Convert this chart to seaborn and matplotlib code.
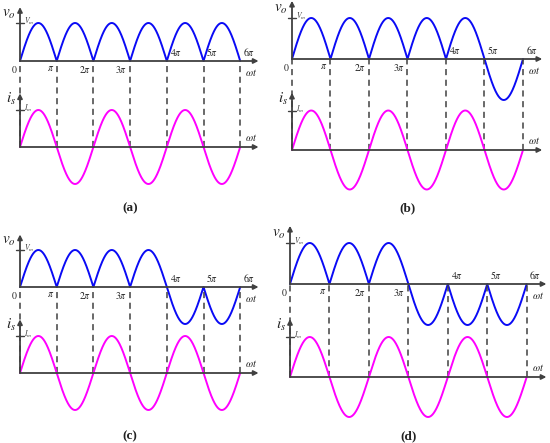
import numpy as np
import pandas as pd
import matplotlib
matplotlib.use("Agg")
import matplotlib.pyplot as plt
import seaborn as sns

# --- dane ---
half_cycles = [0, 1, 2, 3, 4, 5, 6]          # wielokrotnosci pi
tick_labels = [r'$0$', r'$\pi$', r'$2\pi$', r'$3\pi$', r'$4\pi$', r'$5\pi$', r'$6\pi$']
Vm = 1.0
Im = 1.0
# znak napiecia wyjsciowego w kolejnych polokresach
signs_a = [1, 1, 1, 1, 1, 1]
signs_b = [1, 1, 1, 1, 1, -1]
signs_c = [1, 1, 1, 1, -1, -1]
signs_d = [1, 1, 1, -1, -1, -1]
panel_names = ['(a)', '(b)', '(c)', '(d)']

# polozenie paneli w pikselach: x0, pi_px, y_v, amp_v, y_i, amp_i, y_label
layout = {
    '(a)': (20, 36.7, 61, 38, 147, 37, 208),
    '(b)': (292, 38.5, 59, 41, 150, 39.5, 208),
    '(c)': (20, 36.7, 287, 37, 373, 37, 436),
    '(d)': (290, 39.45, 284, 41, 377, 40, 436),
}
signs = dict(zip(panel_names, [signs_a, signs_b, signs_c, signs_d]))

W, H = 550, 443
BLUE = '#0a0af5'
PINK = '#ff00ff'
AXC = '#404040'

sns.set_theme(style="white")
plt.rcParams['font.family'] = ['Liberation Serif', 'DejaVu Serif']
plt.rcParams['mathtext.fontset'] = 'stix'

fig = plt.figure(figsize=(W / 100, H / 100), dpi=100)
XLIM = (-0.6, 7.0)


def px_axes(x0, y0, p, a, ylim):
    left = (x0 + XLIM[0] * p) / W
    width = (XLIM[1] - XLIM[0]) * p / W
    top_px = y0 - ylim[1] * a
    height = (ylim[1] - ylim[0]) * a / H
    bottom = 1 - top_px / H - height
    ax = fig.add_axes([left, bottom, width, height])
    ax.set_xlim(XLIM)
    ax.set_ylim(ylim)
    ax.axis('off')
    return ax


def arrows(ax, ytop):
    ap = dict(arrowstyle='-|>', color=AXC, lw=1.3, mutation_scale=7,
              shrinkA=0, shrinkB=0)
    ax.annotate('', xy=(6.5, 0), xytext=(0, 0), arrowprops=ap, annotation_clip=False)
    ax.annotate('', xy=(0, ytop), xytext=(0, 0), arrowprops=ap, annotation_clip=False)


for name in panel_names:
    x0, p, yv, av, yi, ai, ylab = layout[name]
    wt = np.linspace(0, 6, 1201)
    k = np.minimum((wt // 1).astype(int), 5)
    v = Vm * np.abs(np.sin(np.pi * wt)) * np.array(signs[name])[k]
    i = Im * np.sin(np.pi * wt)

    # napiecie wyjsciowe
    axv = px_axes(x0, yv, p, av, (-1.2, 1.6))
    arrows(axv, 1.42)
    sns.lineplot(x=wt, y=v, ax=axv, color=BLUE, lw=1.4, sort=False,
                 estimator=None, legend=False)
    axv.plot([-0.1, 0.1], [Vm, Vm], color=AXC, lw=1)
    axv.annotate(r'$V_m$', (0, Vm), xytext=(3, 1), textcoords='offset points',
                 ha='left', va='center', fontsize=5.5, color=AXC)
    axv.annotate(r'$v_o$', (0, 1.22), xytext=(-3, 0), textcoords='offset points',
                 ha='right', va='center', fontsize=11, color='#222222')
    for kk, lab in zip(half_cycles, tick_labels):
        if kk <= 3:
            axv.annotate(lab, (kk, 0), xytext=(-2, -2), textcoords='offset points',
                         ha='right', va='top', fontsize=7, color='#222222')
        else:
            axv.annotate(lab, (kk, 0), xytext=(2, 2), textcoords='offset points',
                         ha='left', va='bottom', fontsize=7, color='#222222')
    axv.annotate(r'$\omega t$', (6.3, 0), xytext=(0, -4), textcoords='offset points',
                 ha='center', va='top', fontsize=7.5, color='#222222')

    # prad zrodla
    itop = (yi - yv) / ai
    axi = px_axes(x0, yi, p, ai, (-1.2, itop))
    axi.vlines(half_cycles, 0, itop, colors=AXC, linestyles=(0, (4, 3)), lw=1.1)
    arrows(axi, 1.45)
    sns.lineplot(x=wt, y=i, ax=axi, color=PINK, lw=1.4, sort=False,
                 estimator=None, legend=False)
    axi.plot([-0.1, 0.1], [Im, Im], color=AXC, lw=1)
    axi.annotate(r'$I_m$', (0, Im), xytext=(3, 1), textcoords='offset points',
                 ha='left', va='center', fontsize=5.5, color=AXC)
    axi.annotate(r'$i_s$', (0, 1.3), xytext=(-3, 0), textcoords='offset points',
                 ha='right', va='center', fontsize=11, color='#222222')
    axi.annotate(r'$\omega t$', (6.3, 0), xytext=(0, 3), textcoords='offset points',
                 ha='center', va='bottom', fontsize=7.5, color='#222222')

    fig.text((x0 + 3.0 * p) / W, 1 - ylab / H, name, ha='center', va='center',
             fontsize=9.5, fontweight='bold', color='#222222')

fig.savefig('out.png', dpi=100)
plt.close(fig)
